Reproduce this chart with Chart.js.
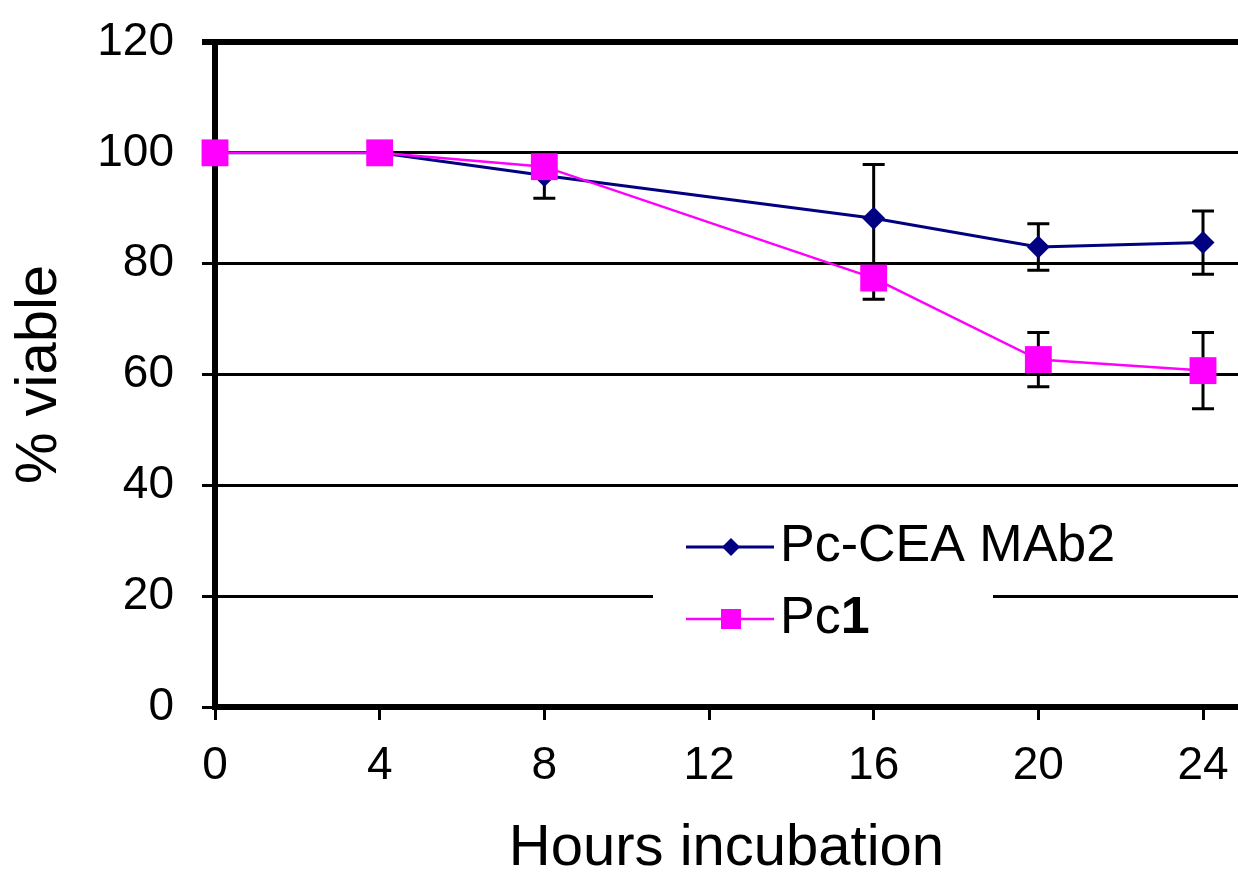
<!DOCTYPE html>
<html>
<head>
<meta charset="utf-8">
<script src="https://cdn.jsdelivr.net/npm/chart.js@4.4.1/dist/chart.umd.min.js"></script>
<style>
  html, body { margin: 0; padding: 0; background: #fff; overflow: hidden; }
  #wrap { width: 1238px; height: 878px; position: relative; }
  canvas { display: block; }
</style>
</head>
<body>
<div id="wrap"><canvas id="viability-chart"></canvas></div>
<script>
// data
const hours = [0, 4, 8, 16, 20, 24];
const mab2Viable = [100, 100, 95.9, 88.2, 83, 83.8];
const mab2ErrUp = [0, 0, 4.1, 9.7, 4.2, 5.7];
const mab2ErrDown = [0, 0, 4.1, 9.7, 4.2, 5.7];
const pc1Viable = [100, 100, 97.5, 77.4, 62.7, 60.7];
const pc1ErrUp = [0, 0, 1, 0, 4.9, 6.9];
const pc1ErrDown = [0, 0, 1, 3.8, 4.9, 6.9];
const yTicks = [0, 20, 40, 60, 80, 100, 120];
const seriesNames = ['Pc-CEA MAb2', 'Pc1'];

const FONT = '"Liberation Sans", Arial, sans-serif';
const chartField = document.getElementById('viability-chart');

const toPoints = (xs, ys) => xs.map((x, i) => ({ x: x, y: ys[i] }));

// error bars, drawn behind the markers
const errorBars = {
    id: 'errorBars',
    beforeDatasetsDraw(chart) {
        const ctx = chart.ctx;
        const xs = chart.scales.x, ys = chart.scales.y;
        const sets = [[mab2Viable, mab2ErrUp, mab2ErrDown], [pc1Viable, pc1ErrUp, pc1ErrDown]];
        ctx.save();
        ctx.strokeStyle = '#000';
        ctx.lineWidth = 3;
        sets.forEach(([vals, up, down]) => {
            hours.forEach((h, i) => {
                const px = xs.getPixelForValue(h);
                const mid = ys.getPixelForValue(vals[i]);
                ctx.beginPath();
                if (up[i]) {
                    const top = ys.getPixelForValue(vals[i] + up[i]);
                    ctx.moveTo(px, mid); ctx.lineTo(px, top);
                    ctx.moveTo(px - 11, top); ctx.lineTo(px + 11, top);
                }
                if (down[i]) {
                    const bot = ys.getPixelForValue(vals[i] - down[i]);
                    ctx.moveTo(px, mid); ctx.lineTo(px, bot);
                    ctx.moveTo(px - 11, bot); ctx.lineTo(px + 11, bot);
                }
                ctx.stroke();
            });
        });
        ctx.restore();
    }
};

// legend box inside the plot, like the original
const insideLegend = {
    id: 'insideLegend',
    afterDatasetsDraw(chart) {
        const ctx = chart.ctx;
        const ca = chart.chartArea;
        const bx = ca.left + 438, by = ca.top + 470;
        ctx.save();
        ctx.fillStyle = '#fff';
        ctx.fillRect(bx, by, 340, 150);

        const lx = ca.left + 471, mx = ca.left + 516, tx = ca.left + 565;
        const rows = [ca.top + 505, ca.top + 577];
        ctx.lineWidth = 3;

        // row 1
        ctx.strokeStyle = '#000080';
        ctx.beginPath(); ctx.moveTo(lx, rows[0]); ctx.lineTo(lx + 88, rows[0]); ctx.stroke();
        ctx.fillStyle = '#000080';
        ctx.beginPath();
        ctx.moveTo(mx - 9, rows[0]); ctx.lineTo(mx, rows[0] - 9);
        ctx.lineTo(mx + 9, rows[0]); ctx.lineTo(mx, rows[0] + 9);
        ctx.closePath(); ctx.fill();

        // row 2
        ctx.strokeStyle = '#ff00ff';
        ctx.lineWidth = 2.5;
        ctx.beginPath(); ctx.moveTo(lx, rows[1]); ctx.lineTo(lx + 88, rows[1]); ctx.stroke();
        ctx.fillStyle = '#ff00ff';
        ctx.fillRect(mx - 10, rows[1] - 10, 20, 20);

        ctx.fillStyle = '#000';
        ctx.textBaseline = 'middle';
        ctx.textAlign = 'left';
        ctx.font = '52px ' + FONT;
        ctx.fillText(seriesNames[0], tx, rows[0]);
        ctx.fillText('Pc', tx, rows[1]);
        const w = ctx.measureText('Pc').width;
        ctx.font = 'bold 52px ' + FONT;
        ctx.fillText('1', tx + w, rows[1]);
        ctx.restore();
    }
};

const chart = new Chart(chartField, {
    type: 'line',
    data: {
        datasets: [{
            label: seriesNames[0],
            data: toPoints(hours, mab2Viable),
            borderColor: '#000080',
            backgroundColor: '#000080',
            borderWidth: 3,
            pointStyle: 'rectRot',
            pointRadius: 11.5,
            pointBorderWidth: 0,
            order: 2,
            clip: false
        }, {
            label: seriesNames[1],
            data: toPoints(hours, pc1Viable),
            borderColor: '#ff00ff',
            backgroundColor: '#ff00ff',
            borderWidth: 2.5,
            pointStyle: 'rect',
            pointRadius: 19,
            pointBorderWidth: 0,
            order: 1,
            clip: false
        }]
    },
    options: {
        responsive: true,
        maintainAspectRatio: false,
        animation: false,
        devicePixelRatio: 1,
        layout: { autoPadding: false, padding: { top: 42, right: 0, left: 0, bottom: 0 } },
        plugins: {
            legend: { display: false },
            tooltip: { enabled: false }
        },
        scales: {
            x: {
                type: 'linear',
                min: 0,
                max: 24.85,
                afterFit: (scale) => {
                    scale.height = 171;
                    scale.paddingLeft = 0;
                    scale.paddingRight = 0;
                },
                ticks: {
                    stepSize: 4,
                    includeBounds: false,
                    padding: 19,
                    color: '#000',
                    font: { family: FONT, size: 46 }
                },
                grid: {
                    drawOnChartArea: false,
                    drawTicks: true,
                    tickLength: 13,
                    color: '#000',
                    lineWidth: 3
                },
                border: { display: true, color: '#000', width: 6 },
                title: {
                    display: true,
                    text: 'Hours incubation',
                    color: '#000',
                    padding: 0,
                    font: { family: FONT, size: 58, lineHeight: 1 }
                }
            },
            y: {
                min: 0,
                max: 120,
                afterFit: (scale) => {
                    scale.width = 215;
                    scale.paddingTop = 0;
                    scale.paddingBottom = 0;
                },
                afterBuildTicks: (scale) => { scale.ticks = yTicks.map(v => ({ value: v })); },
                ticks: {
                    padding: 28,
                    color: '#000',
                    font: { family: FONT, size: 46 }
                },
                grid: {
                    drawTicks: true,
                    tickLength: 13,
                    color: '#000',
                    lineWidth: (c) => (c.tick && c.tick.value === 120 ? 6 : 3)
                },
                border: { display: true, color: '#000', width: 6 },
                title: {
                    display: true,
                    text: '% viable',
                    color: '#000',
                    padding: { top: 11, bottom: 0 },
                    font: { family: FONT, size: 58, lineHeight: 1 }
                }
            }
        }
    },
    plugins: [errorBars, insideLegend]
});
</script>
</body>
</html>
